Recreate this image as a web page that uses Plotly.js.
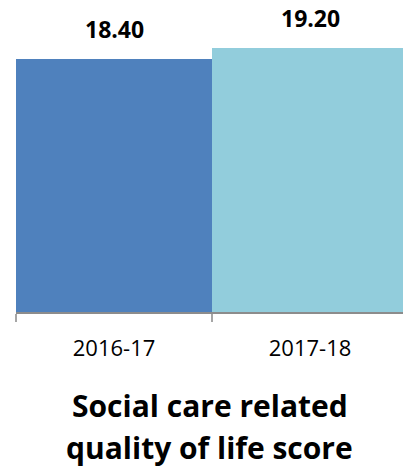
<!DOCTYPE html>
<html>
<head>
<meta charset="utf-8">
<script src="https://cdn.plot.ly/plotly-3.0.1.min.js"></script>
<style>html,body{margin:0;padding:0;overflow:hidden;background:#fff}</style>
</head>
<body>
<div id="chart" style="width:403px;height:469px"></div>
<script>
const categories = ["2016-17", "2017-18"];
const values = [18.40, 19.20];
const valueLabels = ["18.40", "19.20"];
const barColors = ["#4f81bd", "#92cddc"];
const titleLines = ["Social care related", "quality of life score"];

const plotTop = 0, plotBottom = 312;
function paperY(px) { return (plotBottom - px) / (plotBottom - plotTop); }

const annotations = categories.map((c, i) => ({
  x: c, y: values[i], xref: 'x', yref: 'y',
  text: valueLabels[i], showarrow: false,
  yanchor: 'bottom', yshift: 12,
  font: {family: 'Open Sans', size: 23, color: '#000', weight: 'bold'}
}));
const titleY = [405, 447];
titleLines.forEach((t, i) => annotations.push({
  x: 0.5, xref: 'paper', y: paperY(titleY[i]), yref: 'paper',
  text: '<b>' + t + '</b>', showarrow: false,
  xanchor: 'center', yanchor: 'middle',
  font: {family: 'Open Sans', size: 30, color: '#000'}
}));

const trace = {
  type: 'bar', x: categories, y: values,
  marker: {color: barColors, line: {width: 0}},
  hoverinfo: 'skip'
};

const layout = {
  width: 403, height: 469,
  margin: {l: 16, r: 0, t: plotTop, b: 469 - plotBottom, pad: 0},
  paper_bgcolor: '#fff', plot_bgcolor: '#fff',
  bargap: 0, showlegend: false,
  xaxis: {
    type: 'category', range: [-0.5, 1.474],
    showline: true, linecolor: '#8c8c8c', linewidth: 1.5,
    ticks: 'outside', ticklen: 8, tickwidth: 2, tickcolor: '#a6a6a6',
    tickson: 'boundaries', showgrid: false, zeroline: false,
    tickfont: {family: 'Open Sans', size: 22, color: '#000'},
    ticklabelstandoff: 16
  },
  yaxis: {
    range: [0, 22.69], visible: false, showgrid: false, zeroline: false
  },
  annotations: annotations
};

Plotly.newPlot('chart', [trace], layout, {displayModeBar: false, staticPlot: true});
</script>
</body>
</html>
